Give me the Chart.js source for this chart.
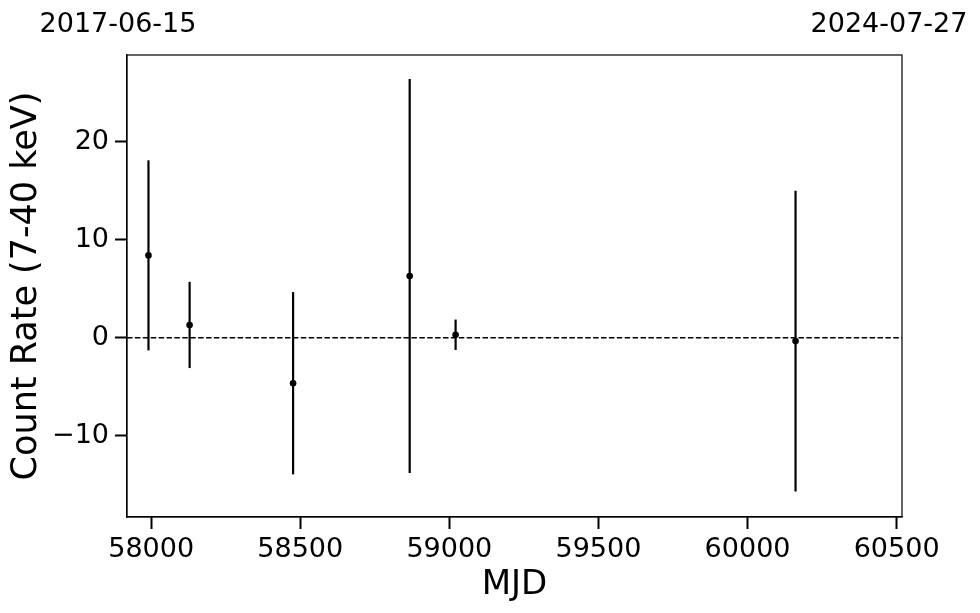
<!DOCTYPE html>
<html>
<head>
<meta charset="utf-8">
<script src="https://cdn.jsdelivr.net/npm/chart.js@4"></script>
<style>
  html, body { margin: 0; padding: 0; background: #fff; }
  #wrap { width: 980px; height: 613px; }
</style>
</head>
<body>
<div id="wrap"><canvas id="lc" width="980" height="613"></canvas></div>
<script>
// --- data ---
const mjd    = [57991, 58129, 58476, 58867, 59021, 60161];
const rate   = [8.4, 1.3, -4.65, 6.3, 0.3, -0.35];
const rateErr = [9.7, 4.4, 9.3, 20.1, 1.55, 15.35];

const xMin = 57919, xMax = 60518;   // 2017-06-15 .. 2024-07-27
const yMin = -18.3, yMax = 28.85;
const yTicks = [-10, 0, 10, 20];
const xTicks = [58000, 58500, 59000, 59500, 60000, 60500];
const dateLabels = ['2017-06-15', '2024-07-27'];

const font = 'DejaVu Sans';

// error bars drawn through the chart scales
const errorBars = {
    id: 'errorBars',
    beforeDatasetsDraw(chart) {
        const ctx = chart.ctx;
        const xs = chart.scales.x, ys = chart.scales.y;
        ctx.save();
        ctx.strokeStyle = '#000';
        ctx.lineWidth = 2.2;
        mjd.forEach((m, i) => {
            const px = xs.getPixelForValue(m);
            ctx.beginPath();
            ctx.moveTo(px, ys.getPixelForValue(rate[i] + rateErr[i]));
            ctx.lineTo(px, ys.getPixelForValue(rate[i] - rateErr[i]));
            ctx.stroke();
        });
        ctx.restore();
    }
};

// frame + calendar dates above the plot ends
const frameAndDates = {
    id: 'frameAndDates',
    afterDraw(chart) {
        const ctx = chart.ctx;
        const a = chart.chartArea;
        const xs = chart.scales.x;
        ctx.save();
        ctx.strokeStyle = '#000';
        ctx.lineWidth = 1.2;
        ctx.strokeRect(a.left, a.top, a.right - a.left, a.bottom - a.top);
        ctx.fillStyle = '#000';
        ctx.font = '27px "' + font + '"';
        ctx.textAlign = 'center';
        ctx.textBaseline = 'alphabetic';
        ctx.fillText(dateLabels[0], xs.getPixelForValue(xMin) - 9, 32);
        ctx.fillText(dateLabels[1], xs.getPixelForValue(xMax) - 13, 32);
        ctx.restore();
    }
};

const tickMark = { drawOnChartArea: false, drawTicks: true, tickLength: 12, tickWidth: 2, tickColor: '#000' };

new Chart(document.getElementById('lc'), {
    type: 'scatter',
    data: {
        datasets: [
            {
                data: mjd.map((m, i) => ({ x: m, y: rate[i] })),
                pointRadius: 3.3,
                pointBackgroundColor: '#000',
                pointBorderColor: '#000',
                pointBorderWidth: 0,
                showLine: false
            },
            {
                type: 'line',
                data: [{ x: xMin, y: 0 }, { x: xMax, y: 0 }],
                borderColor: '#000',
                borderWidth: 1.5,
                borderDash: [5.5, 2.4],
                pointRadius: 0,
                fill: false
            }
        ]
    },
    options: {
        responsive: false,
        animation: false,
        layout: { padding: { top: 55, right: 78, left: 0, bottom: 0 } },
        plugins: { legend: { display: false }, tooltip: { enabled: false } },
        scales: {
            x: {
                type: 'linear',
                min: xMin, max: xMax,
                afterBuildTicks: s => { s.ticks = xTicks.map(v => ({ value: v })); },
                afterFit: s => { s.height = 96; },
                border: { color: '#000', width: 1.2 },
                grid: tickMark,
                ticks: { color: '#000', font: { family: font, size: 27 }, padding: 5, maxRotation: 0, autoSkip: false,
                         callback: v => String(v) },
                title: { display: true, text: 'MJD', color: '#000', font: { family: font, size: 34 }, padding: { top: 0, bottom: 7 } }
            },
            y: {
                min: yMin, max: yMax,
                afterBuildTicks: s => { s.ticks = yTicks.map(v => ({ value: v })); },
                afterFit: s => { s.width = 127; },
                border: { color: '#000', width: 1.2 },
                grid: tickMark,
                ticks: { color: '#000', font: { family: font, size: 27 }, padding: 6,
                         callback: v => v < 0 ? '\u2212' + Math.abs(v) : String(v) },
                title: { display: true, text: 'Count Rate (7-40 keV)', color: '#000', font: { family: font, size: 35 }, padding: { top: 6, bottom: 0 } }
            }
        }
    },
    plugins: [errorBars, frameAndDates]
});
</script>
</body>
</html>
